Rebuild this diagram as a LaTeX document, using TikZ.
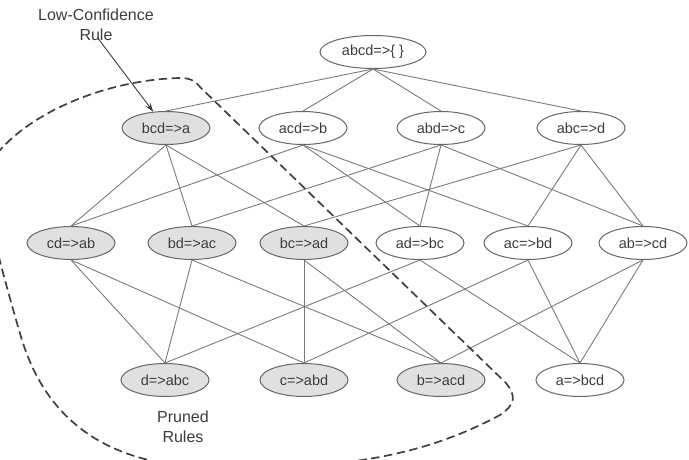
\documentclass[tikz,border=0pt]{standalone}
\usepackage{fontspec}
\setmainfont{Liberation Sans}
\usetikzlibrary{shapes.geometric,arrows.meta}
\definecolor{txt}{HTML}{3C3C3C}
\definecolor{edgeC}{HTML}{666666}
\definecolor{lineC}{HTML}{7A7A7A}
\definecolor{shade}{HTML}{E0E0E0}
\definecolor{dashC}{HTML}{404040}
\begin{document}
\begin{tikzpicture}[x=1pt,y=-1pt,
  rule/.style={ellipse,draw=edgeC,line width=1pt,minimum width=88pt,minimum height=33pt,inner sep=0pt,text=txt,font=\fontsize{14.5}{16}\selectfont,fill=white},
  prunedrule/.style={rule,fill=shade},
  link/.style={draw=lineC,line width=0.9pt},
  lbl/.style={text=txt,align=center,font=\fontsize{16}{20.5}\selectfont,inner sep=0pt},
  prunecurve/.style={draw=dashC,line width=1.7pt,dash pattern=on 8.5pt off 4.5pt}]
\useasboundingbox (0,0) rectangle (689,460);
% nodes
\node[rule,minimum width=106pt] (abcd) at (373,52) {abcd=>\{ \}};
\node[prunedrule] (bcd) at (166,128) {bcd=>a};
\node[rule] (acd) at (303,128) {acd=>b};
\node[rule] (abd) at (441,128) {abd=>c};
\node[rule] (abc) at (581,128) {abc=>d};
\node[prunedrule] (cd) at (71,243) {cd=>ab};
\node[prunedrule] (bd) at (192,243) {bd=>ac};
\node[prunedrule] (bc) at (304,243) {bc=>ad};
\node[rule] (ad) at (420,243) {ad=>bc};
\node[rule] (ac) at (528,243) {ac=>bd};
\node[rule] (ab) at (643,243) {ab=>cd};
\node[prunedrule] (d) at (165,380) {d=>abc};
\node[prunedrule] (c) at (304,380) {c=>abd};
\node[prunedrule] (b) at (441,380) {b=>acd};
\node[rule] (a) at (580,380) {a=>bcd};
% edges
\foreach \t in {bcd,acd,abd,abc} \draw[link] (abcd.south) -- (\t.north);
\foreach \s/\t in {bcd/cd,bcd/bd,bcd/bc,acd/cd,acd/ad,acd/ac,abd/bd,abd/ad,abd/ab,abc/bc,abc/ac,abc/ab}
  \draw[link] (\s.south) -- (\t.north);
\foreach \s/\t in {cd/d,cd/c,bd/d,bd/b,bc/c,bc/b,ad/d,ad/a,ac/c,ac/a,ab/b,ab/a}
  \draw[link] (\s.south) -- (\t.north);
% labels
\node[lbl] (lowconf) at (96,25) {Low-Confidence\\Rule};
\node[lbl] (prunedlbl) at (183,427) {Pruned\\Rules};
\draw[line width=0.9pt,draw=txt,-{Stealth[length=9pt,width=6pt]}] ([xshift=2pt,yshift=3pt]lowconf.south) -- (bcd.128);
% pruned region boundary
\draw[prunecurve] (-25,200) .. controls (-15,130) and (90,80) .. (180,78)
  .. controls (191,78) and (195,81) .. (201,88)
  -- (506,383) .. controls (516,396) and (516,404) .. (500,415)
  .. controls (420,458) and (340,468) .. (230,468)
  .. controls (120,470) and (50,430) .. (22,340)
  .. controls (10,300) and (0,262) .. (-8,230);
\end{tikzpicture}
\end{document}
